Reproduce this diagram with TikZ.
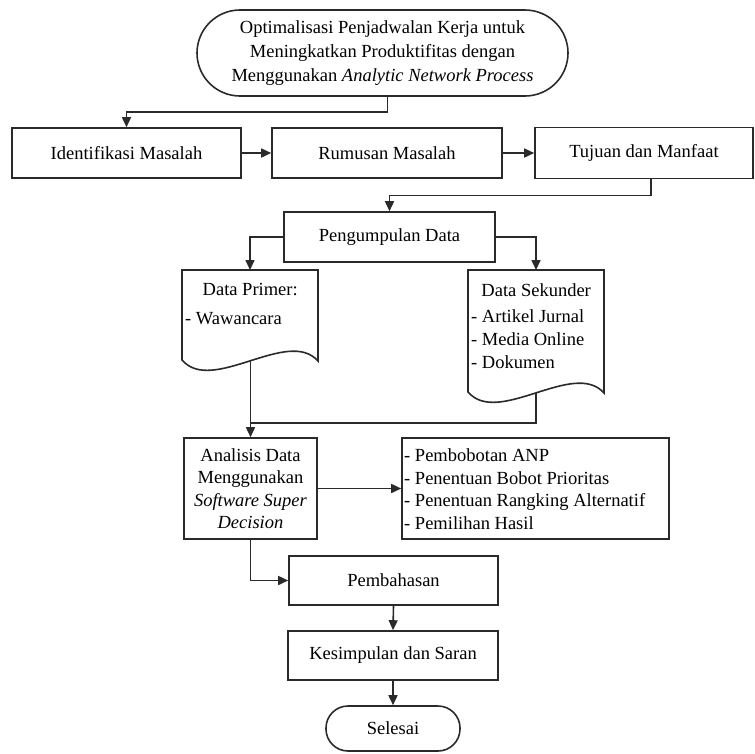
\documentclass[tikz,border=0pt]{standalone}
\usepackage{fontspec}
\setmainfont{Liberation Serif}[Ligatures=TeX]
\usetikzlibrary{arrows.meta}
\newcommand\myfs{\fontsize{18.5}{23}\selectfont}
\newcommand\myfsb{\fontsize{18.5}{22.5}\selectfont}
\definecolor{lc}{HTML}{2A2A2A}
\begin{document}
\begin{tikzpicture}[x=1pt,y=-1pt,
  box/.style={draw=lc, line width=1.6pt, rectangle, inner sep=0pt, align=center, font=\myfs, text=black},
  term/.style={box, rounded corners=#1},
  ln/.style={draw=lc, line width=1.6pt},
  arr/.style={ln, -{Triangle[length=10pt,width=9pt]}},
  txt/.style={inner sep=0pt, font=\myfs, text=black}]
\useasboundingbox (0,0) rectangle (755,753);

% nodes
\node[term=43pt, minimum width=371pt, minimum height=86pt] (top) at (382.5,53)
  {Optimalisasi Penjadwalan Kerja untuk\\[1pt] Meningkatkan Produktifitas dengan\\[1pt] Menggunakan \textit{Analytic Network Process}};
\node[box, minimum width=229pt, minimum height=50pt] (idm) at (126.5,153) {Identifikasi Masalah};
\node[box, minimum width=230pt, minimum height=50pt] (rum) at (387,153) {Rumusan Masalah};
\node[box, minimum width=218pt, minimum height=51pt] (tuj) at (644,153) {Tujuan dan Manfaat};
\node[box, minimum width=211pt, minimum height=50pt] (pd) at (389.5,237) {Pengumpulan Data};

% document shapes
\draw[ln] (182,270) -- (318,270) -- (318,361) .. controls (288,327) and (212,395) .. (182,360) -- cycle;
\draw[ln] (468,270) -- (604,270) -- (604,393) .. controls (574,359) and (498,427) .. (468,392) -- cycle;
\coordinate (primtop) at (250,270);
\coordinate (primbot) at (250.5,361);
\coordinate (sektop) at (536,270);
\coordinate (sekbot) at (536,393);
\coordinate (jn) at (250.5,423);
\node[txt, anchor=north west, align=left] (primtxt) at (185,283)
  {\makebox[130pt]{Data Primer:}\\[6pt]- Wawancara};
\node[txt, anchor=north west, align=left] (sektxt) at (471,283)
  {\makebox[130pt]{Data Sekunder}\\[3pt]- Artikel Jurnal\\- Media Online\\- Dokumen};

\node[box, minimum width=133pt, minimum height=101pt, font=\myfsb] (an) at (250.5,488.5)
  {Analisis Data\\Menggunakan\\\textit{Software Super}\\\textit{Decision}};
\node[box, minimum width=267pt, minimum height=101pt] (res) at (535.5,488.5) {};
\node[txt, anchor=west, align=left, font=\myfsb] (restxt) at (404,489)
  {- Pembobotan ANP\\- Penentuan Bobot Prioritas\\- Penentuan Rangking Alternatif\\- Pemilihan Hasil};
\node[box, minimum width=209pt, minimum height=49pt] (pem) at (393.5,580.5) {Pembahasan};
\node[box, minimum width=210pt, minimum height=49pt] (kes) at (393,655.5) {Kesimpulan dan Saran};
\node[term=22pt, minimum width=134pt, minimum height=45pt] (sel) at (393,728.5) {Selesai};

% connectors
\draw[arr] ([xshift=5pt]top.south) -- ++(0,15) -| (idm.north);
\draw[arr] (idm.east) -- (rum.west);
\draw[arr] (rum.east) -- (tuj.west);
\draw[arr] ([xshift=7pt]tuj.south) -- ++(0,16) -| (pd.north);
\draw[arr] (pd.west) -| (primtop);
\draw[arr] (pd.east) -| (sektop);
\draw[arr] (primbot) -- (an.north);
\draw[ln] (sekbot) |- (jn);
\draw[arr] (an.east) -- (res.west);
\draw[arr] (an.south) |- (pem.west);
\draw[arr] (pem.south) -- (kes.north);
\draw[arr] (kes.south) -- (sel.north);
\end{tikzpicture}
\end{document}
